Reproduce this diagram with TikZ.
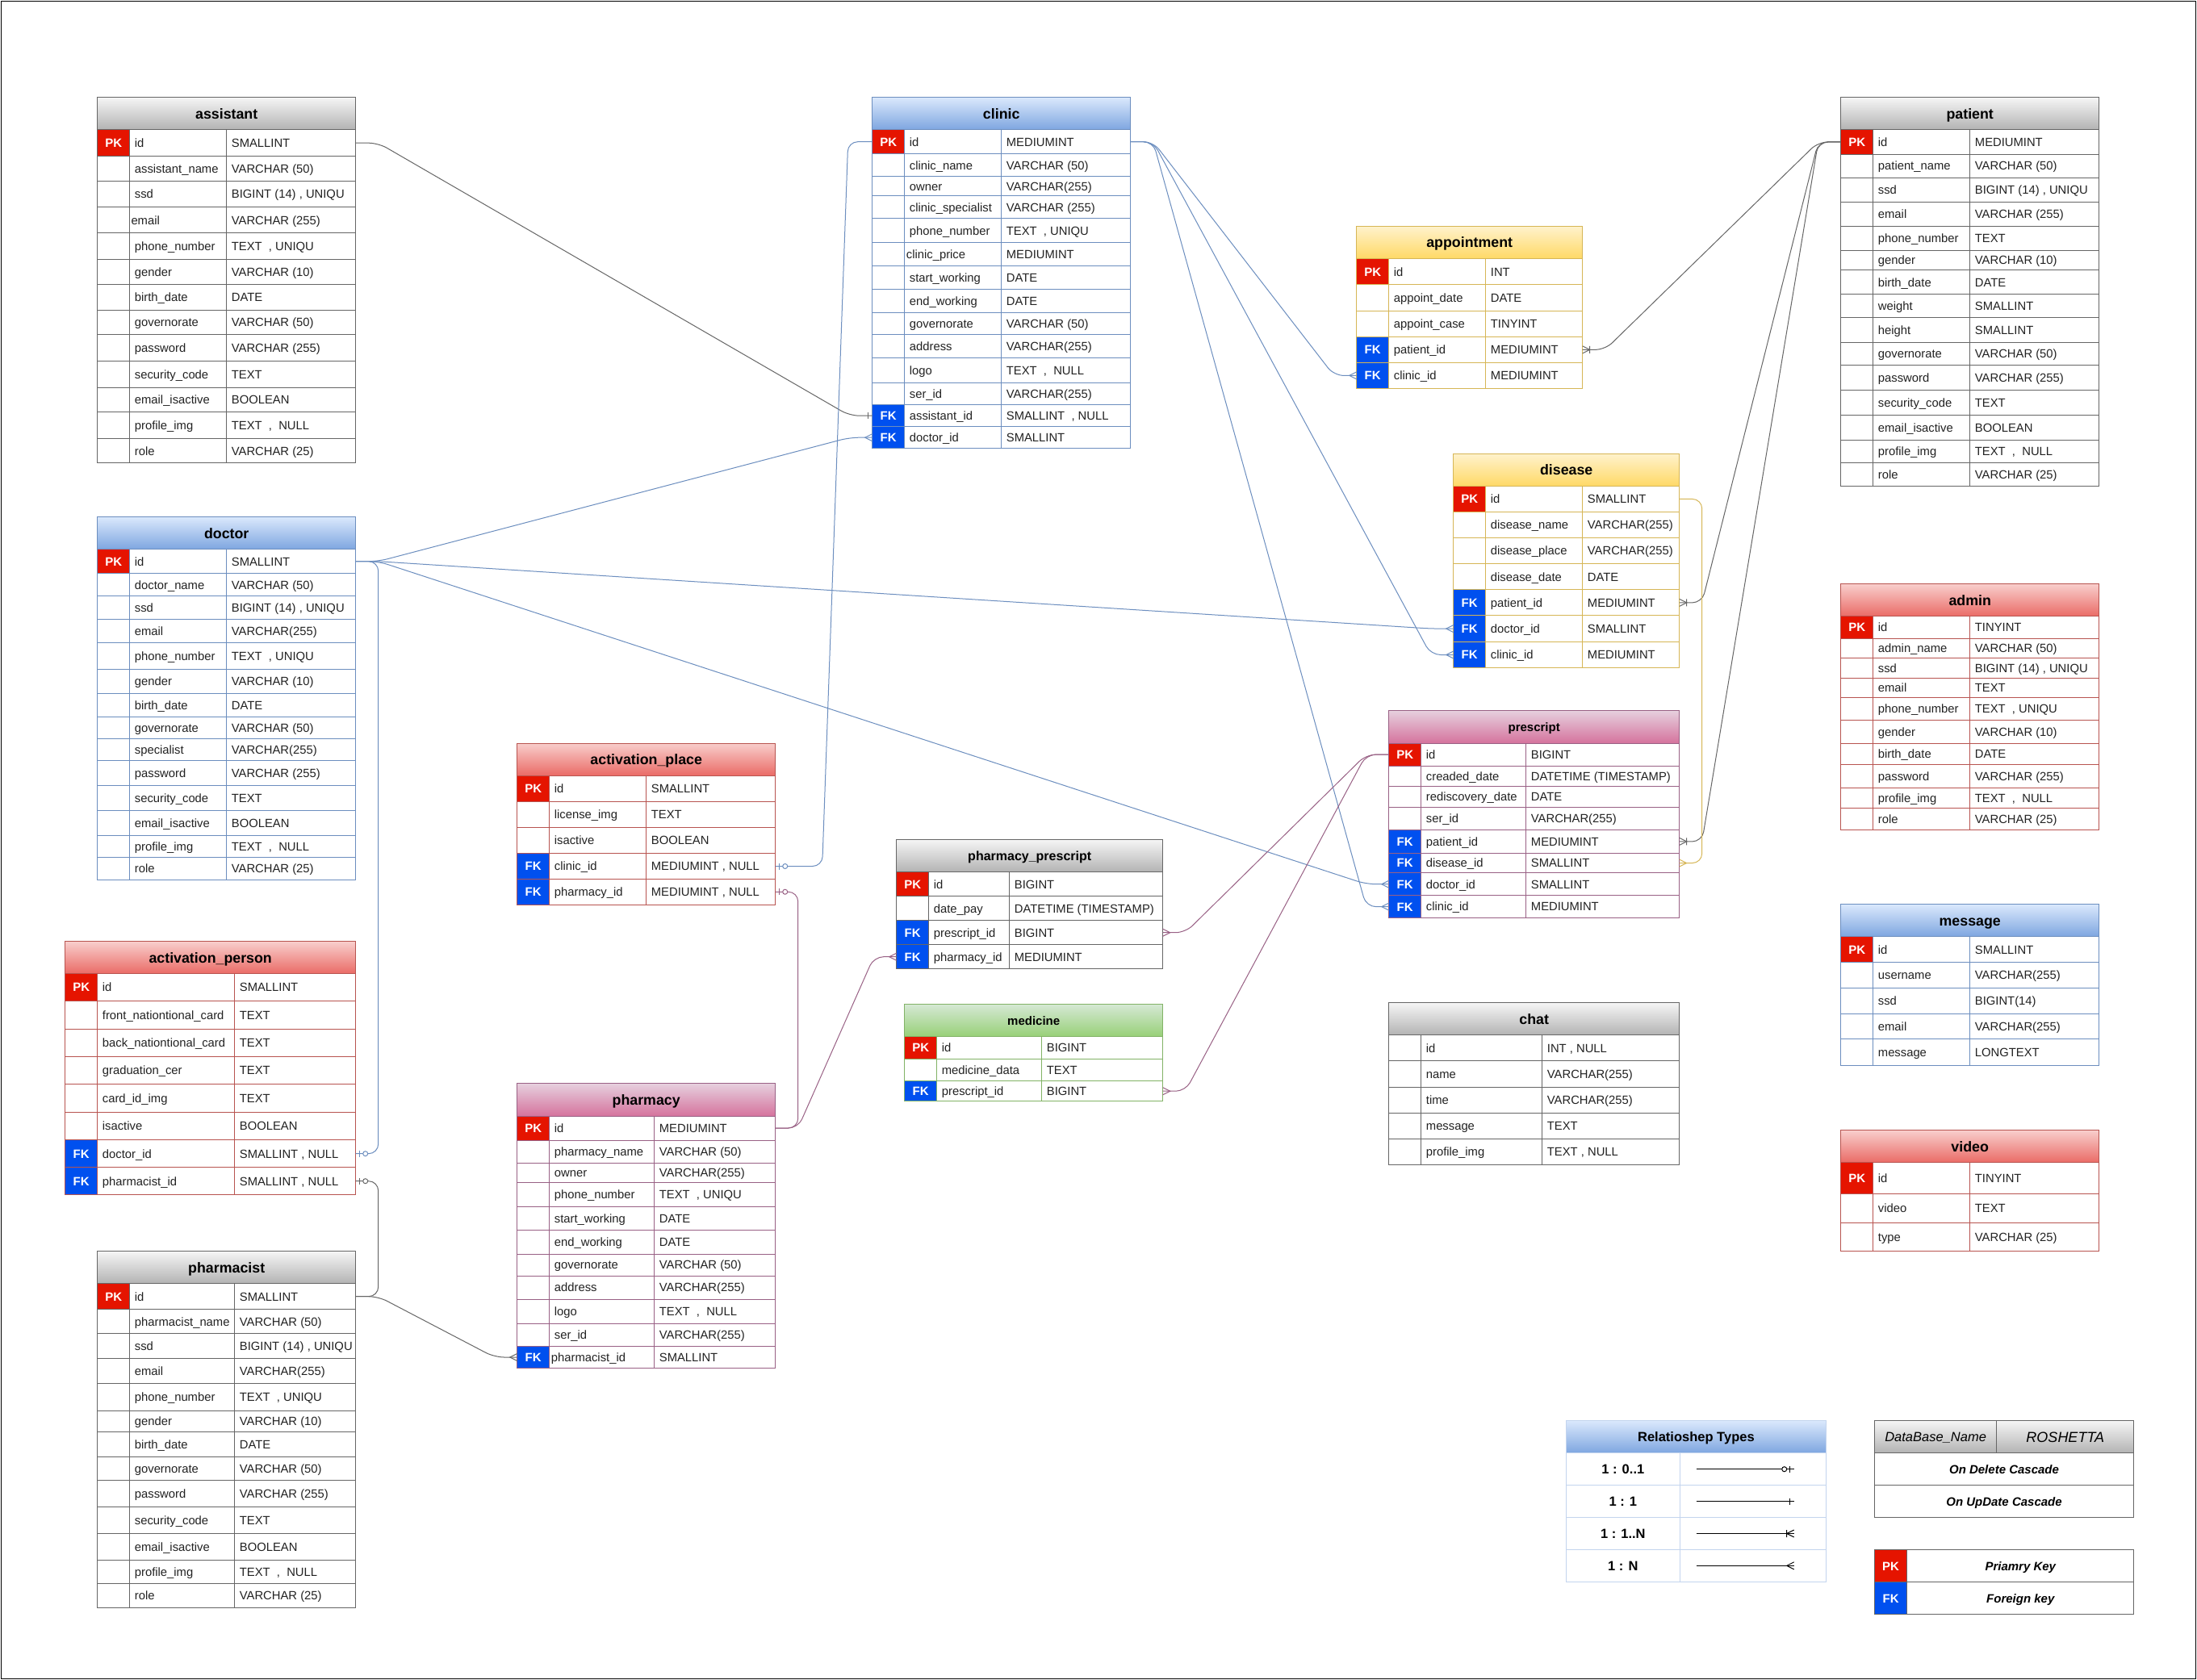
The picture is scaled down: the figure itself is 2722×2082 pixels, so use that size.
\documentclass[tikz,border=0pt]{standalone}
\usepackage{fontspec}
\setmainfont{Liberation Sans}
\usetikzlibrary{calc}
\definecolor{pkred}{HTML}{E51400}
\definecolor{fkblue}{HTML}{0050EF}
\definecolor{grayT}{HTML}{F5F5F5}\definecolor{grayB}{HTML}{B3B3B3}\definecolor{grayL}{HTML}{666666}
\definecolor{blueT}{HTML}{DAE8FC}\definecolor{blueB}{HTML}{7EA6E0}\definecolor{blueL}{HTML}{6C8EBF}
\definecolor{redT}{HTML}{F8CECC}\definecolor{redB}{HTML}{EA6B66}\definecolor{redL}{HTML}{B85450}
\definecolor{yelT}{HTML}{FFF2CC}\definecolor{yelB}{HTML}{FFD966}\definecolor{yelL}{HTML}{D6B656}
\definecolor{purT}{HTML}{E6D0DE}\definecolor{purB}{HTML}{D5739D}\definecolor{purL}{HTML}{996185}
\definecolor{grnT}{HTML}{D5E8D4}\definecolor{grnB}{HTML}{97D077}\definecolor{grnL}{HTML}{82B366}
\definecolor{lgL}{HTML}{C3D4EE}
\definecolor{txt}{HTML}{222222}
\tikzset{
  kPK/.style={fill=pkred}, kFK/.style={fill=fkblue}, kN/.style={fill=white},
  rowbox/.style={inner sep=0pt, outer sep=0pt, draw=none},
  celltext/.style={anchor=west, inner sep=0pt, font=\fontsize{14.8}{16}\selectfont, text=txt, text height=10.6pt, text depth=0pt},
  keytext/.style={inner sep=0pt, font=\bfseries\fontsize{15}{16}\selectfont, text=white, text height=10.8pt, text depth=0pt},
  titletext/.style={inner sep=0pt, font=\tfont, text height=\tcap, text depth=0pt},
  lgtext/.style={inner sep=0pt, text=black, text depth=0pt},
  conn/.style={line width=1pt, rounded corners=12pt},
  mk/.style={line width=1pt},
}
\def\tfont{\bfseries\fontsize{17.8}{20}\selectfont}\def\tcap{12.7pt}
\def\ktPK{PK}\def\ktFK{FK}\def\ktN{}
\def\fin{6}
\def\stub{28}
\newcommand{\ertable}[9]{%
  \def\tXa{#3}\def\tXb{#4}\def\tXc{#5}\def\tXd{#6}\def\tL{#2L}%
  \shade[top color=#2T, bottom color=#2B] (#3,#7) rectangle (#6,#8);
  \draw[draw=#2L, line width=1pt] (#3,#7) rectangle (#6,#8);
  \node[titletext] (#1-h) at ({(#3+#6)/2},{(#7+#8)/2}) {#9};
}
\newcommand{\errow}[7]{%
  \fill[k#5] (\tXa,#3) rectangle (\tXb,#4);
  \draw[draw=\tL, line width=1pt] (\tXa,#3) rectangle (\tXb,#4) (\tXb,#3) rectangle (\tXc,#4) (\tXc,#3) rectangle (\tXd,#4);
  \node[rowbox, minimum width={(\tXd-\tXa)*1pt}, minimum height={(#4-#3)*1pt}] (#1-#2) at ({(\tXa+\tXd)/2},{(#3+#4)/2}) {};
  \node[keytext] (#1-#2-k) at ({(\tXa+\tXb)/2},{(#3+#4)/2}) {\csname kt#5\endcsname};
  \node[celltext] (#1-#2-f) at ({\tXb+\fin},{(#3+#4)/2}) {#6};
  \node[celltext] (#1-#2-t) at ({\tXc+6},{(#3+#4)/2}) {#7};
}
% markers: #1 anchor, #2 direction (+1 marker extends to +x), #3 colour
\newcommand{\mkmany}[3]{\draw[mk,#3,shift={(#1)},xscale=#2] (0,-4.5) -- (9,0) -- (0,4.5);}
\newcommand{\mkone}[3]{\draw[mk,#3,shift={(#1)},xscale=#2] (5,-4) -- (5,4);}
\newcommand{\mkonemany}[3]{\draw[mk,#3,shift={(#1)},xscale=#2] (0,-4.5) -- (9,0) -- (0,4.5) (9,-4.5) -- (9,4.5);}
\newcommand{\mkzeroone}[3]{\draw[mk,#3,shift={(#1)},xscale=#2] (5,-4) -- (5,4); \draw[mk,#3,fill=white,shift={(#1)},xscale=#2] (12,0) circle (3);}
\begin{document}
\catcode`\_=12
\begin{tikzpicture}[x=1pt,y=-1pt]
\useasboundingbox (0,0) rectangle (2722,2082);
\fill[white] (0,0) rectangle (2722,2082);
\draw[black, line width=1pt] (1.5,1.5) rectangle (2720.5,2080.5);

% ---------- assistant
\ertable{assistant}{gray}{120.7}{160.7}{280.7}{440.7}{120.7}{160.7}{assistant}
\errow{assistant}{1}{160.7}{193.7}{PK}{id}{SMALLINT}
\errow{assistant}{2}{193.7}{224.3}{N}{assistant_name}{VARCHAR (50)}
\errow{assistant}{3}{224.3}{256.7}{N}{ssd}{BIGINT (14) , UNIQU}
{\def\fin{1.6}\errow{assistant}{4}{256.7}{288.7}{N}{email}{VARCHAR (255)}}
\errow{assistant}{5}{288.7}{321.7}{N}{phone_number}{TEXT\ \ , UNIQU}
\errow{assistant}{6}{321.7}{352.7}{N}{gender}{VARCHAR (10)}
\errow{assistant}{7}{352.7}{384.3}{N}{birth_date}{DATE}
\errow{assistant}{8}{384.3}{414.3}{N}{governorate}{VARCHAR (50)}
\errow{assistant}{9}{414.3}{447.3}{N}{password}{VARCHAR (255)}
\errow{assistant}{10}{447.3}{480.3}{N}{security_code}{TEXT}
\errow{assistant}{11}{480.3}{510.3}{N}{email_isactive}{BOOLEAN}
\errow{assistant}{12}{510.3}{543.7}{N}{profile_img}{TEXT\ \ ,\ \ NULL}
\errow{assistant}{13}{543.7}{573.7}{N}{role}{VARCHAR (25)}

% ---------- doctor
\ertable{doctor}{blue}{120.7}{160.7}{280.7}{440.7}{640.7}{680.7}{doctor}
\errow{doctor}{1}{680.7}{710.7}{PK}{id}{SMALLINT}
\errow{doctor}{2}{710.7}{738.7}{N}{doctor_name}{VARCHAR (50)}
\errow{doctor}{3}{738.7}{767.7}{N}{ssd}{BIGINT (14) , UNIQU}
\errow{doctor}{4}{767.7}{796.7}{N}{email}{VARCHAR(255)}
\errow{doctor}{5}{796.7}{829.7}{N}{phone_number}{TEXT\ \ , UNIQU}
\errow{doctor}{6}{829.7}{859.3}{N}{gender}{VARCHAR (10)}
\errow{doctor}{7}{859.3}{888.7}{N}{birth_date}{DATE}
\errow{doctor}{8}{888.7}{915.7}{N}{governorate}{VARCHAR (50)}
\errow{doctor}{9}{915.7}{942.7}{N}{specialist}{VARCHAR(255)}
\errow{doctor}{10}{942.7}{973.7}{N}{password}{VARCHAR (255)}
\errow{doctor}{11}{973.7}{1004.3}{N}{security_code}{TEXT}
\errow{doctor}{12}{1004.3}{1035.7}{N}{email_isactive}{BOOLEAN}
\errow{doctor}{13}{1035.7}{1062.7}{N}{profile_img}{TEXT\ \ ,\ \ NULL}
\errow{doctor}{14}{1062.7}{1090.3}{N}{role}{VARCHAR (25)}

% ---------- activation_person
\ertable{actperson}{red}{80.7}{120.7}{290.7}{440.7}{1166.7}{1206.7}{activation_person}
\errow{actperson}{1}{1206.7}{1240.3}{PK}{id}{SMALLINT}
\errow{actperson}{2}{1240.3}{1275.3}{N}{front_nationtional_card}{TEXT}
\errow{actperson}{3}{1275.3}{1309.3}{N}{back_nationtional_card}{TEXT}
\errow{actperson}{4}{1309.3}{1343.7}{N}{graduation_cer}{TEXT}
\errow{actperson}{5}{1343.7}{1378}{N}{card_id_img}{TEXT}
\errow{actperson}{6}{1378}{1412.7}{N}{isactive}{BOOLEAN}
\errow{actperson}{7}{1412.7}{1446.7}{FK}{doctor_id}{SMALLINT , NULL}
\errow{actperson}{8}{1446.7}{1480.7}{FK}{pharmacist_id}{SMALLINT , NULL}

% ---------- pharmacist
\ertable{pharmacist}{gray}{120.7}{160.7}{290.7}{440.7}{1550.7}{1590.7}{pharmacist}
\errow{pharmacist}{1}{1590.7}{1622.7}{PK}{id}{SMALLINT}
\errow{pharmacist}{2}{1622.7}{1652.7}{N}{pharmacist_name}{VARCHAR (50)}
\errow{pharmacist}{3}{1652.7}{1683.7}{N}{ssd}{BIGINT (14) , UNIQU}
\errow{pharmacist}{4}{1683.7}{1714.7}{N}{email}{VARCHAR(255)}
\errow{pharmacist}{5}{1714.7}{1748.3}{N}{phone_number}{TEXT\ \ , UNIQU}
\errow{pharmacist}{6}{1748.3}{1774.7}{N}{gender}{VARCHAR (10)}
\errow{pharmacist}{7}{1774.7}{1805.3}{N}{birth_date}{DATE}
\errow{pharmacist}{8}{1805.3}{1834.7}{N}{governorate}{VARCHAR (50)}
\errow{pharmacist}{9}{1834.7}{1867.7}{N}{password}{VARCHAR (255)}
\errow{pharmacist}{10}{1867.7}{1900.7}{N}{security_code}{TEXT}
\errow{pharmacist}{11}{1900.7}{1933.3}{N}{email_isactive}{BOOLEAN}
\errow{pharmacist}{12}{1933.3}{1962.7}{N}{profile_img}{TEXT\ \ ,\ \ NULL}
\errow{pharmacist}{13}{1962.7}{1992.3}{N}{role}{VARCHAR (25)}

% ---------- clinic
\ertable{clinic}{blue}{1080.7}{1120.7}{1240.7}{1400.7}{120.7}{160.7}{clinic}
\errow{clinic}{1}{160.7}{190.7}{PK}{id}{MEDIUMINT}
\errow{clinic}{2}{190.7}{218.7}{N}{clinic_name}{VARCHAR (50)}
\errow{clinic}{3}{218.7}{242.7}{N}{owner}{VARCHAR(255)}
\errow{clinic}{4}{242.7}{270.7}{N}{clinic_specialist}{VARCHAR (255)}
\errow{clinic}{5}{270.7}{300.7}{N}{phone_number}{TEXT\ \ , UNIQU}
{\def\fin{2}\errow{clinic}{6}{300.7}{329.3}{N}{clinic_price}{MEDIUMINT}}
\errow{clinic}{7}{329.3}{358.7}{N}{start_working}{DATE}
\errow{clinic}{8}{358.7}{387.7}{N}{end_working}{DATE}
\errow{clinic}{9}{387.7}{414.7}{N}{governorate}{VARCHAR (50)}
\errow{clinic}{10}{414.7}{443.7}{N}{address}{VARCHAR(255)}
\errow{clinic}{11}{443.7}{474.7}{N}{logo}{TEXT\ \ ,\ \ NULL}
\errow{clinic}{12}{474.7}{501.7}{N}{ser_id}{VARCHAR(255)}
\errow{clinic}{13}{501.7}{528.7}{FK}{assistant_id}{SMALLINT\ \ , NULL}
\errow{clinic}{14}{528.7}{555.7}{FK}{doctor_id}{SMALLINT}

% ---------- activation_place
\ertable{actplace}{red}{640.7}{680.7}{800.7}{960.7}{921}{961}{activation_place}
\errow{actplace}{1}{961}{993.5}{PK}{id}{SMALLINT}
\errow{actplace}{2}{993.5}{1025}{N}{license_img}{TEXT}
\errow{actplace}{3}{1025}{1057.5}{N}{isactive}{BOOLEAN}
\errow{actplace}{4}{1057.5}{1089.5}{FK}{clinic_id}{MEDIUMINT , NULL}
\errow{actplace}{5}{1089.5}{1121}{FK}{pharmacy_id}{MEDIUMINT , NULL}

% ---------- pharmacy
\ertable{pharmacy}{pur}{640.7}{680.7}{810.7}{960.7}{1342.5}{1383}{pharmacy}
\errow{pharmacy}{1}{1383}{1413}{PK}{id}{MEDIUMINT}
\errow{pharmacy}{2}{1413}{1441}{N}{pharmacy_name}{VARCHAR (50)}
\errow{pharmacy}{3}{1441}{1465.5}{N}{owner}{VARCHAR(255)}
\errow{pharmacy}{4}{1465.5}{1495.5}{N}{phone_number}{TEXT\ \ , UNIQU}
\errow{pharmacy}{5}{1495.5}{1524.5}{N}{start_working}{DATE}
\errow{pharmacy}{6}{1524.5}{1554}{N}{end_working}{DATE}
\errow{pharmacy}{7}{1554}{1581}{N}{governorate}{VARCHAR (50)}
\errow{pharmacy}{8}{1581}{1610}{N}{address}{VARCHAR(255)}
\errow{pharmacy}{9}{1610}{1640.5}{N}{logo}{TEXT\ \ ,\ \ NULL}
\errow{pharmacy}{10}{1640.5}{1668.5}{N}{ser_id}{VARCHAR(255)}
{\def\fin{2}\errow{pharmacy}{11}{1668.5}{1695.5}{FK}{pharmacist_id}{SMALLINT}}

% ---------- appointment
\ertable{appointment}{yel}{1680.7}{1720.7}{1840.7}{1960.7}{280.3}{320.5}{appointment}
\errow{appointment}{1}{320.5}{352.9}{PK}{id}{INT}
\errow{appointment}{2}{352.9}{385.3}{N}{appoint_date}{DATE}
\errow{appointment}{3}{385.3}{417.3}{N}{appoint_case}{TINYINT}
\errow{appointment}{4}{417.3}{449.4}{FK}{patient_id}{MEDIUMINT}
\errow{appointment}{5}{449.4}{481.4}{FK}{clinic_id}{MEDIUMINT}

% ---------- disease
\ertable{disease}{yel}{1800.7}{1840.7}{1960.7}{2080.7}{562.2}{602.4}{disease}
\errow{disease}{1}{602.4}{634.4}{PK}{id}{SMALLINT}
\errow{disease}{2}{634.4}{666.5}{N}{disease_name}{VARCHAR(255)}
\errow{disease}{3}{666.5}{698.5}{N}{disease_place}{VARCHAR(255)}
\errow{disease}{4}{698.5}{730.9}{N}{disease_date}{DATE}
\errow{disease}{5}{730.9}{762.9}{FK}{patient_id}{MEDIUMINT}
\errow{disease}{6}{762.9}{795.3}{FK}{doctor_id}{SMALLINT}
\errow{disease}{7}{795.3}{827.7}{FK}{clinic_id}{MEDIUMINT}

% ---------- prescript
{\def\tfont{\bfseries\fontsize{15}{17}\selectfont}\def\tcap{10.7pt}%
\ertable{prescript}{pur}{1720.7}{1760.7}{1890.7}{2080.7}{880.5}{921}{prescript}}
\def\tXa{1720.7}\def\tXb{1760.7}\def\tXc{1890.7}\def\tXd{2080.7}\def\tL{purL}
\errow{prescript}{1}{921}{949.2}{PK}{id}{BIGINT}
\errow{prescript}{2}{949.2}{974.7}{N}{creaded_date}{DATETIME (TIMESTAMP)}
\errow{prescript}{3}{974.7}{1000.3}{N}{rediscovery_date}{DATE}
\errow{prescript}{4}{1000.3}{1028.5}{N}{ser_id}{VARCHAR(255)}
\errow{prescript}{5}{1028.5}{1057.3}{FK}{patient_id}{MEDIUMINT}
\errow{prescript}{6}{1057.3}{1081.8}{FK}{disease_id}{SMALLINT}
\errow{prescript}{7}{1081.8}{1109.6}{FK}{doctor_id}{SMALLINT}
\errow{prescript}{8}{1109.6}{1137.7}{FK}{clinic_id}{MEDIUMINT}

% ---------- chat
\ertable{chat}{gray}{1720.7}{1760.7}{1910.7}{2080.7}{1242.6}{1282.7}{chat}
\errow{chat}{1}{1282.7}{1314.9}{N}{id}{INT , NULL}
\errow{chat}{2}{1314.9}{1347.1}{N}{name}{VARCHAR(255)}
\errow{chat}{3}{1347.1}{1379.2}{N}{time}{VARCHAR(255)}
\errow{chat}{4}{1379.2}{1411.4}{N}{message}{TEXT}
\errow{chat}{5}{1411.4}{1443.5}{N}{profile_img}{TEXT , NULL}

% ---------- patient
\ertable{patient}{gray}{2280.7}{2320.7}{2440.7}{2600.7}{120.9}{160.7}{patient}
\errow{patient}{1}{160.7}{191.2}{PK}{id}{MEDIUMINT}
\errow{patient}{2}{191.2}{220}{N}{patient_name}{VARCHAR (50)}
\errow{patient}{3}{220}{250.5}{N}{ssd}{BIGINT (14) , UNIQU}
\errow{patient}{4}{250.5}{280.4}{N}{email}{VARCHAR (255)}
\errow{patient}{5}{280.4}{310.3}{N}{phone_number}{TEXT}
\errow{patient}{6}{310.3}{334.9}{N}{gender}{VARCHAR (10)}
\errow{patient}{7}{334.9}{364.9}{N}{birth_date}{DATE}
\errow{patient}{8}{364.9}{393.6}{N}{weight}{SMALLINT}
\errow{patient}{9}{393.6}{424.1}{N}{height}{SMALLINT}
\errow{patient}{10}{424.1}{452.2}{N}{governorate}{VARCHAR (50)}
\errow{patient}{11}{452.2}{483.3}{N}{password}{VARCHAR (255)}
\errow{patient}{12}{483.3}{514.4}{N}{security_code}{TEXT}
\errow{patient}{13}{514.4}{545.5}{N}{email_isactive}{BOOLEAN}
\errow{patient}{14}{545.5}{573.1}{N}{profile_img}{TEXT\ \ ,\ \ NULL}
\errow{patient}{15}{573.1}{602.4}{N}{role}{VARCHAR (25)}

% ---------- admin
\ertable{admin}{red}{2280.7}{2320.7}{2440.7}{2600.7}{723.8}{763.7}{admin}
\errow{admin}{1}{763.7}{791.2}{PK}{id}{TINYINT}
\errow{admin}{2}{791.2}{815.9}{N}{admin_name}{VARCHAR (50)}
\errow{admin}{3}{815.9}{840.5}{N}{ssd}{BIGINT (14) , UNIQU}
\errow{admin}{4}{840.5}{864.6}{N}{email}{TEXT}
\errow{admin}{5}{864.6}{892.7}{N}{phone_number}{TEXT\ \ , UNIQU}
\errow{admin}{6}{892.7}{921.5}{N}{gender}{VARCHAR (10)}
\errow{admin}{7}{921.5}{947.8}{N}{birth_date}{DATE}
\errow{admin}{8}{947.8}{976}{N}{password}{VARCHAR (255)}
\errow{admin}{9}{976}{1001.8}{N}{profile_img}{TEXT\ \ ,\ \ NULL}
\errow{admin}{10}{1001.8}{1028.8}{N}{role}{VARCHAR (25)}

% ---------- message
\ertable{message}{blue}{2280.7}{2320.7}{2440.7}{2600.7}{1120.7}{1160.7}{message}
\errow{message}{1}{1160.7}{1192.7}{PK}{id}{SMALLINT}
\errow{message}{2}{1192.7}{1224.3}{N}{username}{VARCHAR(255)}
\errow{message}{3}{1224.3}{1256.3}{N}{ssd}{BIGINT(14)}
\errow{message}{4}{1256.3}{1287.7}{N}{email}{VARCHAR(255)}
\errow{message}{5}{1287.7}{1320.3}{N}{message}{LONGTEXT}

% ---------- video
\ertable{video}{red}{2280.7}{2320.7}{2440.7}{2600.7}{1400.7}{1440.7}{video}
\errow{video}{1}{1440.7}{1479.7}{PK}{id}{TINYINT}
\errow{video}{2}{1479.7}{1515.3}{N}{video}{TEXT}
\errow{video}{3}{1515.3}{1550.3}{N}{type}{VARCHAR (25)}

% ---------- pharmacy_prescript
{\def\tfont{\bfseries\fontsize{16}{18}\selectfont}\def\tcap{11.5pt}%
\ertable{pharmpres}{gray}{1110.7}{1150.7}{1250.7}{1440.7}{1040.7}{1080.7}{pharmacy_prescript}}
\def\tXa{1110.7}\def\tXb{1150.7}\def\tXc{1250.7}\def\tXd{1440.7}\def\tL{grayL}
\errow{pharmpres}{1}{1080.7}{1110.7}{PK}{id}{BIGINT}
\errow{pharmpres}{2}{1110.7}{1140.7}{N}{date_pay}{DATETIME (TIMESTAMP)}
\errow{pharmpres}{3}{1140.7}{1170.7}{FK}{prescript_id}{BIGINT}
\errow{pharmpres}{4}{1170.7}{1200.7}{FK}{pharmacy_id}{MEDIUMINT}

% ---------- medicine
{\def\tfont{\bfseries\fontsize{15}{17}\selectfont}\def\tcap{10.7pt}%
\ertable{medicine}{grn}{1120.7}{1160.7}{1290.7}{1440.7}{1244.7}{1284.7}{medicine}}
\def\tXa{1120.7}\def\tXb{1160.7}\def\tXc{1290.7}\def\tXd{1440.7}\def\tL{grnL}
\errow{medicine}{1}{1284.7}{1312.3}{PK}{id}{BIGINT}
\errow{medicine}{2}{1312.3}{1339.7}{N}{medicine_data}{TEXT}
\errow{medicine}{3}{1339.7}{1364.7}{FK}{prescript_id}{BIGINT}

% ================= connectors
\draw[conn,grayL] (assistant-1.east) -- ++(\stub,0) -- ($(clinic-13.west)+(-\stub,0)$) -- (clinic-13.west);
\mkone{clinic-13.west}{-1}{grayL}
\draw[conn,blueL] (doctor-1.east) -- ++(\stub,0) -- ($(clinic-14.west)+(-\stub,0)$) -- (clinic-14.west);
\mkmany{clinic-14.west}{-1}{blueL}
\draw[conn,blueL] (doctor-1.east) -- ++(\stub,0) -- ($(disease-6.west)+(-\stub,0)$) -- (disease-6.west);
\mkmany{disease-6.west}{-1}{blueL}
\draw[conn,blueL] (doctor-1.east) -- ++(\stub,0) -- ($(prescript-7.west)+(-\stub,0)$) -- (prescript-7.west);
\mkmany{prescript-7.west}{-1}{blueL}
\draw[conn,blueL] (doctor-1.east) -- ++(\stub,0) -- ($(actperson-7.east)+(\stub,0)$) -- (actperson-7.east);
\mkzeroone{actperson-7.east}{1}{blueL}
\draw[conn,blueL] (clinic-1.west) -- ++(-30,0) -- ($(actplace-4.east)+(58,0)$) -- (actplace-4.east);
\mkzeroone{actplace-4.east}{1}{blueL}
\draw[conn,blueL] (clinic-1.east) -- ++(\stub,0) -- ($(appointment-5.west)+(-\stub,0)$) -- (appointment-5.west);
\mkmany{appointment-5.west}{-1}{blueL}
\draw[conn,blueL] (clinic-1.east) -- ++(\stub,0) -- ($(disease-7.west)+(-\stub,0)$) -- (disease-7.west);
\mkmany{disease-7.west}{-1}{blueL}
\draw[conn,blueL] (clinic-1.east) -- ++(\stub,0) -- ($(prescript-8.west)+(-\stub,0)$) -- (prescript-8.west);
\mkmany{prescript-8.west}{-1}{blueL}
\draw[conn,grayL] (patient-1.west) -- ++(-\stub,0) -- ($(appointment-4.east)+(\stub,0)$) -- (appointment-4.east);
\mkonemany{appointment-4.east}{1}{grayL}
\draw[conn,grayL] (patient-1.west) -- ++(-\stub,0) -- ($(disease-5.east)+(\stub,0)$) -- (disease-5.east);
\mkonemany{disease-5.east}{1}{grayL}
\draw[conn,grayL] (patient-1.west) -- ++(-\stub,0) -- ($(prescript-5.east)+(\stub,0)$) -- (prescript-5.east);
\mkonemany{prescript-5.east}{1}{grayL}
\draw[conn,yelL] (disease-1.east) -- ++(\stub,0) -- ($(prescript-6.east)+(\stub,0)$) -- (prescript-6.east);
\mkmany{prescript-6.east}{1}{yelL}
\draw[conn,purL] (prescript-1.west) -- ++(-\stub,0) -- ($(pharmpres-3.east)+(\stub,0)$) -- (pharmpres-3.east);
\mkmany{pharmpres-3.east}{1}{purL}
\draw[conn,purL] (prescript-1.west) -- ++(-\stub,0) -- ($(medicine-3.east)+(\stub,0)$) -- (medicine-3.east);
\mkmany{medicine-3.east}{1}{purL}
\draw[conn,purL] (pharmacy-1.east) -- ++(\stub,0) -- ($(actplace-5.east)+(\stub,0)$) -- (actplace-5.east);
\mkzeroone{actplace-5.east}{1}{purL}
\draw[conn,purL] (pharmacy-1.east) -- ++(\stub,0) -- ($(pharmpres-4.west)+(-\stub,0)$) -- (pharmpres-4.west);
\mkmany{pharmpres-4.west}{-1}{purL}
\draw[conn,grayL] (pharmacist-1.east) -- ++(\stub,0) -- ($(pharmacy-11.west)+(-\stub,0)$) -- (pharmacy-11.west);
\mkmany{pharmacy-11.west}{-1}{grayL}
\draw[conn,grayL] (pharmacist-1.east) -- ++(\stub,0) -- ($(actperson-8.east)+(\stub,0)$) -- (actperson-8.east);
\mkzeroone{actperson-8.east}{1}{grayL}

% ================= legend: relationship types
\shade[top color=blueT, bottom color=blueB] (1940.5,1760.7) rectangle (2262.3,1800.7);
\draw[lgL, line width=1pt] (1940.5,1760.7) rectangle (2262.3,1800.7);
\node[lgtext, font=\bfseries\fontsize{16.5}{18}\selectfont, text height=11.8pt] (rt-h) at (2101.4,1780.7) {Relatioshep Types};
\foreach \i/\ya/\yb/\lab in {1/1800.7/1840.7/{1 : 0..1}, 2/1840.7/1880.7/{1 : 1}, 3/1880.7/1920.3/{1 : 1..N}, 4/1920.3/1960.3/{1 : N}}{
  \draw[lgL, line width=1pt] (1940.5,\ya) rectangle (2081.1,\yb) (2081.1,\ya) rectangle (2262.3,\yb);
  \node[lgtext, font=\bfseries\fontsize{16.5}{18}\selectfont, text height=11.8pt] (rt-\i) at (2010.8,{(\ya+\yb)/2}) {\lab};
  \coordinate (rt-\i-a) at (2101.6,{(\ya+\yb)/2});
  \coordinate (rt-\i-b) at (2222.7,{(\ya+\yb)/2});
  \draw[black, line width=1pt] (rt-\i-a) -- (rt-\i-b);
}
\mkzeroone{rt-1-b}{-1}{black}
\mkone{rt-2-b}{-1}{black}
\mkonemany{rt-3-b}{-1}{black}
\mkmany{rt-4-b}{-1}{black}

% ================= legend: database name
\shade[top color=grayT, bottom color=grayB] (2322.3,1760.7) rectangle (2643.7,1800.7);
\draw[grayL, line width=1pt] (2322.3,1760.7) rectangle (2473.9,1800.7) (2473.9,1760.7) rectangle (2643.7,1800.7);
\node[lgtext, font=\itshape\fontsize{16.5}{18}\selectfont, text height=11.8pt] (db-n) at (2398.1,1780.7) {DataBase_Name};
\node[lgtext, font=\itshape\fontsize{18}{20}\selectfont, text height=12.9pt] (db-v) at (2558.8,1780.7) {ROSHETTA};
\draw[grayL, line width=1pt] (2322.3,1800.7) rectangle (2643.7,1840.7) (2322.3,1840.7) rectangle (2643.7,1880.7);
\node[lgtext, font=\bfseries\itshape\fontsize{15}{17}\selectfont, text height=10.8pt] (db-d) at (2483,1820.7) {On Delete Cascade};
\node[lgtext, font=\bfseries\itshape\fontsize{15}{17}\selectfont, text height=10.8pt] (db-u) at (2483,1860.7) {On UpDate Cascade};

% ================= legend: keys
\fill[pkred] (2322.3,1920.7) rectangle (2362.9,1960.7);
\fill[fkblue] (2322.3,1960.7) rectangle (2362.9,2000.7);
\draw[grayL, line width=1pt] (2322.3,1920.7) rectangle (2362.9,1960.7) (2362.9,1920.7) rectangle (2643.7,1960.7)
  (2322.3,1960.7) rectangle (2362.9,2000.7) (2362.9,1960.7) rectangle (2643.7,2000.7);
\node[keytext] (kl-pk) at (2342.6,1940.7) {PK};
\node[keytext] (kl-fk) at (2342.6,1980.7) {FK};
\node[lgtext, font=\bfseries\itshape\fontsize{15}{17}\selectfont, text height=10.8pt] (kl-pkt) at (2503.3,1940.7) {Priamry Key};
\node[lgtext, font=\bfseries\itshape\fontsize{15}{17}\selectfont, text height=10.8pt] (kl-fkt) at (2503.3,1980.7) {Foreign key};
\end{tikzpicture}
\end{document}
